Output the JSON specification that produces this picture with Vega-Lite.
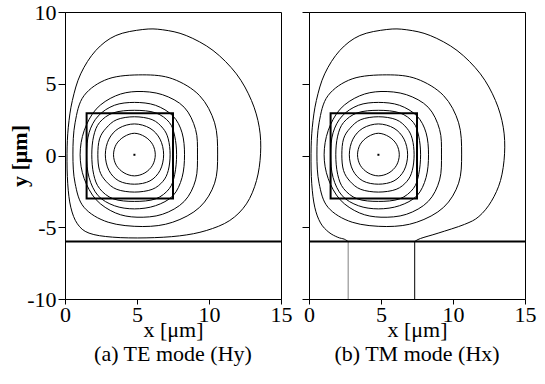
{
  "$schema": "https://vega.github.io/schema/vega-lite/v6.json",
  "padding": {"left": 8, "top": 0, "right": 5, "bottom": 2},
  "bounds": "flush",
  "spacing": 28,
  "config": {
    "font": "Liberation Serif",
    "view": {"stroke": "black", "strokeWidth": 1},
    "axis": {"grid": false, "domainColor": "black", "tickColor": "black", "labelColor": "black", "titleColor": "black", "labelFontSize": 22, "titleFontSize": 22, "labelFont": "Liberation Serif", "titleFont": "Liberation Serif", "titleFontWeight": "normal", "labelFlush": false, "labelOverlap": false},
    "title": {"font": "Liberation Serif", "fontSize": 22, "fontWeight": "normal", "color": "black"}
  },
  "datasets": {
    "contours": [
      {"p":"ab","c":1,"i":0,"x":6.27,"y":0.05},{"p":"ab","c":1,"i":1,"x":6.08,"y":0.78},{"p":"ab","c":1,"i":2,"x":5.55,"y":1.31},{"p":"ab","c":1,"i":3,"x":4.82,"y":1.55},{"p":"ab","c":1,"i":4,"x":4.10,"y":1.31},{"p":"ab","c":1,"i":5,"x":3.56,"y":0.78},{"p":"ab","c":1,"i":6,"x":3.37,"y":0.05},{"p":"ab","c":1,"i":7,"x":3.56,"y":-0.68},{"p":"ab","c":1,"i":8,"x":4.10,"y":-1.21},{"p":"ab","c":1,"i":9,"x":4.82,"y":-1.42},{"p":"ab","c":1,"i":10,"x":5.55,"y":-1.21},{"p":"ab","c":1,"i":11,"x":6.08,"y":-0.68},
      {"p":"ab","c":2,"i":0,"x":6.85,"y":0.05},{"p":"ab","c":2,"i":1,"x":6.6,"y":1.14},{"p":"ab","c":2,"i":2,"x":5.9,"y":1.9},{"p":"ab","c":2,"i":3,"x":4.82,"y":2.2},{"p":"ab","c":2,"i":4,"x":3.74,"y":1.9},{"p":"ab","c":2,"i":5,"x":3.05,"y":1.14},{"p":"ab","c":2,"i":6,"x":2.8,"y":0.05},{"p":"ab","c":2,"i":7,"x":3.05,"y":-1.04},{"p":"ab","c":2,"i":8,"x":3.74,"y":-1.77},{"p":"ab","c":2,"i":9,"x":4.82,"y":-2.0},{"p":"ab","c":2,"i":10,"x":5.9,"y":-1.77},{"p":"ab","c":2,"i":11,"x":6.6,"y":-1.04},
      {"p":"ab","c":3,"i":0,"x":7.3,"y":0.05},{"p":"ab","c":3,"i":1,"x":7.17,"y":1.16},{"p":"ab","c":3,"i":2,"x":6.8,"y":1.9},{"p":"ab","c":3,"i":3,"x":6.05,"y":2.5},{"p":"ab","c":3,"i":4,"x":4.82,"y":2.7},{"p":"ab","c":3,"i":5,"x":3.6,"y":2.5},{"p":"ab","c":3,"i":6,"x":2.85,"y":1.9},{"p":"ab","c":3,"i":7,"x":2.4,"y":1.16},{"p":"ab","c":3,"i":8,"x":2.28,"y":0.05},{"p":"ab","c":3,"i":9,"x":2.4,"y":-1.05},{"p":"ab","c":3,"i":10,"x":2.85,"y":-1.8},{"p":"ab","c":3,"i":11,"x":3.6,"y":-2.36},{"p":"ab","c":3,"i":12,"x":4.82,"y":-2.55},{"p":"ab","c":3,"i":13,"x":6.05,"y":-2.36},{"p":"ab","c":3,"i":14,"x":6.8,"y":-1.8},{"p":"ab","c":3,"i":15,"x":7.17,"y":-1.05},
      {"p":"ab","c":4,"i":0,"x":7.75,"y":0.05},{"p":"ab","c":4,"i":1,"x":7.62,"y":1.35},{"p":"ab","c":4,"i":2,"x":7.25,"y":2.3},{"p":"ab","c":4,"i":3,"x":6.3,"y":2.97},{"p":"ab","c":4,"i":4,"x":4.82,"y":3.15},{"p":"ab","c":4,"i":5,"x":3.35,"y":2.97},{"p":"ab","c":4,"i":6,"x":2.4,"y":2.3},{"p":"ab","c":4,"i":7,"x":1.99,"y":1.35},{"p":"ab","c":4,"i":8,"x":1.86,"y":0.05},{"p":"ab","c":4,"i":9,"x":1.99,"y":-1.31},{"p":"ab","c":4,"i":10,"x":2.4,"y":-2.3},{"p":"ab","c":4,"i":11,"x":3.35,"y":-3.02},{"p":"ab","c":4,"i":12,"x":4.82,"y":-3.2},{"p":"ab","c":4,"i":13,"x":6.3,"y":-3.02},{"p":"ab","c":4,"i":14,"x":7.25,"y":-2.3},{"p":"ab","c":4,"i":15,"x":7.62,"y":-1.31},
      {"p":"ab","c":5,"i":0,"x":8.3,"y":0.05},{"p":"ab","c":5,"i":1,"x":8.13,"y":1.58},{"p":"ab","c":5,"i":2,"x":7.5,"y":2.75},{"p":"ab","c":5,"i":3,"x":6.28,"y":3.5},{"p":"ab","c":5,"i":4,"x":4.82,"y":3.7},{"p":"ab","c":5,"i":5,"x":3.43,"y":3.5},{"p":"ab","c":5,"i":6,"x":2.3,"y":2.75},{"p":"ab","c":5,"i":7,"x":1.67,"y":1.58},{"p":"ab","c":5,"i":8,"x":1.5,"y":0.05},{"p":"ab","c":5,"i":9,"x":1.67,"y":-1.53},{"p":"ab","c":5,"i":10,"x":2.3,"y":-2.8},{"p":"ab","c":5,"i":11,"x":3.43,"y":-3.5},{"p":"ab","c":5,"i":12,"x":4.82,"y":-3.72},{"p":"ab","c":5,"i":13,"x":6.28,"y":-3.5},{"p":"ab","c":5,"i":14,"x":7.5,"y":-2.8},{"p":"ab","c":5,"i":15,"x":8.13,"y":-1.53},
      {"p":"ab","c":6,"i":0,"x":9.2,"y":0.1},{"p":"ab","c":6,"i":1,"x":9.07,"y":1.81},{"p":"ab","c":6,"i":2,"x":8.28,"y":3.36},{"p":"ab","c":6,"i":3,"x":6.76,"y":4.24},{"p":"ab","c":6,"i":4,"x":5.0,"y":4.46},{"p":"ab","c":6,"i":5,"x":3.5,"y":4.15},{"p":"ab","c":6,"i":6,"x":2.16,"y":3.23},{"p":"ab","c":6,"i":7,"x":1.33,"y":1.73},{"p":"ab","c":6,"i":8,"x":1.05,"y":0.05},{"p":"ab","c":6,"i":9,"x":1.33,"y":-1.6},{"p":"ab","c":6,"i":10,"x":2.16,"y":-3.08},{"p":"ab","c":6,"i":11,"x":3.5,"y":-4.0},{"p":"ab","c":6,"i":12,"x":5.0,"y":-4.3},{"p":"ab","c":6,"i":13,"x":6.76,"y":-4.1},{"p":"ab","c":6,"i":14,"x":8.28,"y":-3.2},{"p":"ab","c":6,"i":15,"x":9.07,"y":-1.7},
      {"p":"ab","c":7,"i":0,"x":10.6,"y":0.1},{"p":"ab","c":7,"i":1,"x":10.39,"y":2.28},{"p":"ab","c":7,"i":2,"x":9.35,"y":4.17},{"p":"ab","c":7,"i":3,"x":7.48,"y":5.34},{"p":"ab","c":7,"i":4,"x":5.4,"y":5.62},{"p":"ab","c":7,"i":5,"x":3.0,"y":5.34},{"p":"ab","c":7,"i":6,"x":1.32,"y":4.17},{"p":"ab","c":7,"i":7,"x":0.7,"y":2.28},{"p":"ab","c":7,"i":8,"x":0.55,"y":0.1},{"p":"ab","c":7,"i":9,"x":0.7,"y":-1.93},{"p":"ab","c":7,"i":10,"x":1.32,"y":-3.61},{"p":"ab","c":7,"i":11,"x":3.0,"y":-4.65},{"p":"ab","c":7,"i":12,"x":5.4,"y":-4.95},{"p":"ab","c":7,"i":13,"x":7.48,"y":-4.65},{"p":"ab","c":7,"i":14,"x":9.35,"y":-3.61},{"p":"ab","c":7,"i":15,"x":10.39,"y":-1.93},
      {"p":"a","c":8,"i":0,"x":13.58,"y":0.12},{"p":"a","c":8,"i":1,"x":13.49,"y":1.97},{"p":"a","c":8,"i":2,"x":12.95,"y":3.83},{"p":"a","c":8,"i":3,"x":11.9,"y":5.69},{"p":"a","c":8,"i":4,"x":10.28,"y":7.32},{"p":"a","c":8,"i":5,"x":8.42,"y":8.36},{"p":"a","c":8,"i":6,"x":6.79,"y":8.76},{"p":"a","c":8,"i":7,"x":5.4,"y":8.78},{"p":"a","c":8,"i":8,"x":3.53,"y":8.36},{"p":"a","c":8,"i":9,"x":2.14,"y":7.32},{"p":"a","c":8,"i":10,"x":1.09,"y":5.69},{"p":"a","c":8,"i":11,"x":0.51,"y":3.83},{"p":"a","c":8,"i":12,"x":0.23,"y":1.97},{"p":"a","c":8,"i":13,"x":0.14,"y":0.12},{"p":"a","c":8,"i":14,"x":0.19,"y":-1.97},{"p":"a","c":8,"i":15,"x":0.4,"y":-3.6},{"p":"a","c":8,"i":16,"x":0.86,"y":-4.76},{"p":"a","c":8,"i":17,"x":1.67,"y":-5.41},{"p":"a","c":8,"i":18,"x":3.3,"y":-5.69},{"p":"a","c":8,"i":19,"x":5.63,"y":-5.74},{"p":"a","c":8,"i":20,"x":7.95,"y":-5.6},{"p":"a","c":8,"i":21,"x":9.81,"y":-5.23},{"p":"a","c":8,"i":22,"x":11.44,"y":-4.53},{"p":"a","c":8,"i":23,"x":12.6,"y":-3.37},{"p":"a","c":8,"i":24,"x":13.3,"y":-1.74}
    ],
    "openContour": [
      {"i":0,"x":2.72,"y":-6.0},{"i":1,"x":2.45,"y":-5.83},{"i":2,"x":2.0,"y":-5.7},{"i":3,"x":1.38,"y":-5.35},{"i":4,"x":0.8,"y":-4.7},{"i":5,"x":0.4,"y":-3.6},{"i":6,"x":0.19,"y":-1.97},{"i":7,"x":0.14,"y":0.12},{"i":8,"x":0.23,"y":1.97},{"i":9,"x":0.51,"y":3.83},{"i":10,"x":1.09,"y":5.69},{"i":11,"x":2.14,"y":7.32},{"i":12,"x":3.53,"y":8.36},{"i":13,"x":5.4,"y":8.78},{"i":14,"x":6.79,"y":8.76},{"i":15,"x":8.42,"y":8.36},{"i":16,"x":10.28,"y":7.32},{"i":17,"x":11.9,"y":5.69},{"i":18,"x":12.95,"y":3.83},{"i":19,"x":13.49,"y":1.97},{"i":20,"x":13.58,"y":0.12},{"i":21,"x":13.3,"y":-1.74},{"i":22,"x":12.66,"y":-3.2},{"i":23,"x":11.8,"y":-4.25},{"i":24,"x":10.8,"y":-4.8},{"i":25,"x":8.97,"y":-5.41},{"i":26,"x":7.75,"y":-5.78},{"i":27,"x":7.34,"y":-6.0}
    ],
    "core": [{"x1":1.5,"x2":7.5,"y1":-3.0,"y2":2.95}],
    "centre": [{"x":4.82,"y":0.05}],
    "substrate": [{"y":-6}],
    "legs": [{"x":2.72,"y1":-10,"y2":-6,"tone":"grey"},{"x":7.34,"y1":-10,"y2":-6,"tone":"black"}]
  },
  "hconcat": [
    {
      "width": 216, "height": 287,
      "title": {"text": "(a) TE mode (Hy)", "orient": "bottom", "offset": 4, "font": "Liberation Serif"},
      "layer": [
        {
          "data": {"name": "contours"},
          "transform": [{"filter": "datum.p === 'ab' || datum.p === 'a'"}],
          "mark": {"type": "line", "interpolate": "cardinal-closed", "color": "black", "strokeWidth": 1},
          "encoding": {
            "x": {"field": "x", "type": "quantitative", "scale": {"domain": [0, 15], "nice": false, "zero": false},
                  "axis": {"title": "x [μm]", "values": [0, 2.5, 5, 7.5, 10, 12.5, 15], "labelExpr": "datum.value % 5 === 0 ? '' + datum.value : ''", "labelFont": "Liberation Serif", "titleFont": "Liberation Serif", "tickSize": 5, "labelPadding": 0, "titlePadding": -6}},
            "y": {"field": "y", "type": "quantitative", "scale": {"domain": [-10, 10], "nice": false, "zero": false},
                  "axis": {"title": "y [μm]", "titleFontWeight": "bold", "labelFont": "Liberation Serif", "titleFont": "Liberation Serif", "values": [-10, -7.5, -5, -2.5, 0, 2.5, 5, 7.5, 10], "labelExpr": "datum.value % 5 === 0 ? '' + datum.value : ''", "tickSize": 7, "labelPadding": 2, "titlePadding": -5}},
            "detail": {"field": "c", "type": "nominal"},
            "order": {"field": "i", "type": "quantitative"}
          }
        },
        {
          "data": {"name": "core"},
          "mark": {"type": "rect", "fillOpacity": 0, "stroke": "black", "strokeWidth": 2},
          "encoding": {"x": {"field": "x1", "type": "quantitative"}, "x2": {"field": "x2"}, "y": {"field": "y1", "type": "quantitative"}, "y2": {"field": "y2"}}
        },
        {
          "data": {"name": "substrate"},
          "mark": {"type": "rule", "color": "black", "strokeWidth": 2},
          "encoding": {"y": {"field": "y", "type": "quantitative"}}
        },
        {
          "data": {"name": "centre"},
          "mark": {"type": "point", "shape": "square", "filled": true, "size": 4, "color": "black", "opacity": 1},
          "encoding": {"x": {"field": "x", "type": "quantitative"}, "y": {"field": "y", "type": "quantitative"}}
        }
      ]
    },
    {
      "width": 216, "height": 287,
      "title": {"text": "(b) TM mode (Hx)", "orient": "bottom", "offset": 4, "font": "Liberation Serif"},
      "layer": [
        {
          "data": {"name": "contours"},
          "transform": [{"filter": "datum.p === 'ab'"}],
          "mark": {"type": "line", "interpolate": "cardinal-closed", "color": "black", "strokeWidth": 1},
          "encoding": {
            "x": {"field": "x", "type": "quantitative", "scale": {"domain": [0, 15], "nice": false, "zero": false},
                  "axis": {"title": "x [μm]", "values": [0, 2.5, 5, 7.5, 10, 12.5, 15], "labelExpr": "datum.value % 5 === 0 ? '' + datum.value : ''", "labelFont": "Liberation Serif", "titleFont": "Liberation Serif", "tickSize": 5, "labelPadding": 0, "titlePadding": -6}},
            "y": {"field": "y", "type": "quantitative", "scale": {"domain": [-10, 10], "nice": false, "zero": false},
                  "axis": {"title": null, "labels": false, "values": [-10, -7.5, -5, -2.5, 0, 2.5, 5, 7.5, 10], "tickSize": 7}},
            "detail": {"field": "c", "type": "nominal"},
            "order": {"field": "i", "type": "quantitative"}
          }
        },
        {
          "data": {"name": "openContour"},
          "mark": {"type": "line", "interpolate": "cardinal", "color": "black", "strokeWidth": 1},
          "encoding": {"x": {"field": "x", "type": "quantitative"}, "y": {"field": "y", "type": "quantitative"}, "order": {"field": "i", "type": "quantitative"}}
        },
        {
          "data": {"name": "legs"},
          "mark": {"type": "rule", "strokeWidth": 1},
          "encoding": {"x": {"field": "x", "type": "quantitative"}, "y": {"field": "y1", "type": "quantitative"}, "y2": {"field": "y2"},
                       "color": {"field": "tone", "type": "nominal", "scale": {"domain": ["grey", "black"], "range": ["#808080", "#000000"]}, "legend": null}}
        },
        {
          "data": {"name": "core"},
          "mark": {"type": "rect", "fillOpacity": 0, "stroke": "black", "strokeWidth": 2},
          "encoding": {"x": {"field": "x1", "type": "quantitative"}, "x2": {"field": "x2"}, "y": {"field": "y1", "type": "quantitative"}, "y2": {"field": "y2"}}
        },
        {
          "data": {"name": "substrate"},
          "mark": {"type": "rule", "color": "black", "strokeWidth": 2},
          "encoding": {"y": {"field": "y", "type": "quantitative"}}
        },
        {
          "data": {"name": "centre"},
          "mark": {"type": "point", "shape": "square", "filled": true, "size": 4, "color": "black", "opacity": 1},
          "encoding": {"x": {"field": "x", "type": "quantitative"}, "y": {"field": "y", "type": "quantitative"}}
        }
      ]
    }
  ]
}
